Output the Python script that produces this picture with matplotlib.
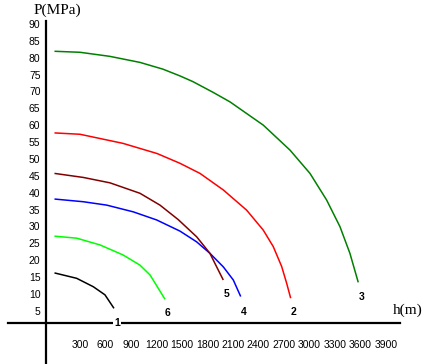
import matplotlib.pyplot as plt

# depth h (m) and pressure P (MPa)
h1 = [0, 261, 457, 594, 700]
p1 = [16.5, 14.9, 12.4, 10.0, 6.0]

h2 = [0, 300, 806, 1206, 1476, 1712, 1986, 2261, 2456, 2574, 2673, 2732, 2779]
p2 = [58.0, 57.6, 54.9, 51.9, 49.0, 46.0, 41.1, 35.1, 29.2, 24.3, 18.4, 13.4, 9.0]

h3 = [0, 300, 650, 1006, 1276, 1476, 1629, 1868, 2065, 2457, 2771, 3006, 3202, 3359, 3476, 3574]
p3 = [82.2, 81.9, 80.7, 78.9, 76.9, 74.9, 73.2, 70.0, 67.2, 60.3, 52.9, 46.0, 38.1, 30.2, 22.3, 13.7]

h4 = [0, 339, 614, 927, 1202, 1476, 1673, 1829, 1986, 2104, 2191]
p4 = [38.4, 37.6, 36.6, 34.6, 32.2, 28.9, 25.7, 22.3, 18.3, 14.4, 9.5]

h5 = [0, 339, 653, 1006, 1241, 1456, 1673, 1829, 1908, 1986]
p5 = [46.0, 44.8, 43.2, 40.1, 36.6, 32.3, 27.2, 22.3, 18.3, 14.4]

h6 = [0, 261, 535, 809, 1006, 1124, 1222, 1300]
p6 = [27.4, 26.8, 24.8, 21.8, 18.8, 15.9, 11.9, 8.7]

curve_names = ['1', '2', '3', '4', '5', '6']
x_ticks = [300, 600, 900, 1200, 1500, 1800, 2100, 2400, 2700, 3000, 3300, 3600, 3900]
y_ticks = [5, 10, 15, 20, 25, 30, 35, 40, 45, 50, 55, 60, 65, 70, 75, 80, 85, 90]

fig = plt.figure(figsize=(4.22, 3.64), dpi=100)
ax = fig.add_axes([0, 0, 1, 1])
ax.set_xlim(-641, 4324)
ax.set_ylim(-10.5, 97.4)
ax.axis('off')

curves = [(h1, p1, 'black'), (h2, p2, '#ff0000'), (h3, p3, '#008000'),
          (h4, p4, '#0000ff'), (h5, p5, '#800000'), (h6, p6, '#00ff00')]
for h, p, c in curves:
    ax.plot(h, p, color=c, lw=1.1, solid_capstyle='butt', solid_joinstyle='round')

# hand-drawn style axes
ax.plot([-547, 4065], [1.66, 1.66], color='black', lw=1.6)
ax.plot([-100, -100], [-10.5, 91.2], color='black', lw=1.6)

tick_font = ['Liberation Sans Narrow', 'Liberation Sans', 'DejaVu Sans']
for v in y_ticks:
    ax.text(-165, v, str(v), ha='right', va='center', fontsize=7.5, family=tick_font)
for v in x_ticks:
    ax.text(v, -4.9, str(v), ha='center', va='center', fontsize=7.5, family=tick_font)

ax.text(29, 94.4, 'P(MPa)', ha='center', va='center', fontsize=11, family='Liberation Serif')
ax.text(3982, 5.5, 'h(m)', ha='left', va='center', fontsize=11, family='Liberation Serif')

# curve numbers
label_pos = {'1': (735, 1.66), '2': (2818, 4.9), '3': (3618, 9.3),
             '4': (2229, 4.9), '5': (2029, 10.3), '6': (1335, 4.6)}
for name in curve_names:
    x, y = label_pos[name]
    kw = {}
    if name == '1':
        kw['bbox'] = dict(facecolor='white', edgecolor='none', pad=0.5)
    ax.text(x, y, name, ha='center', va='center', fontsize=7.5, fontweight='bold',
            family='Liberation Sans', **kw)

fig.savefig('out.png', dpi=100)
